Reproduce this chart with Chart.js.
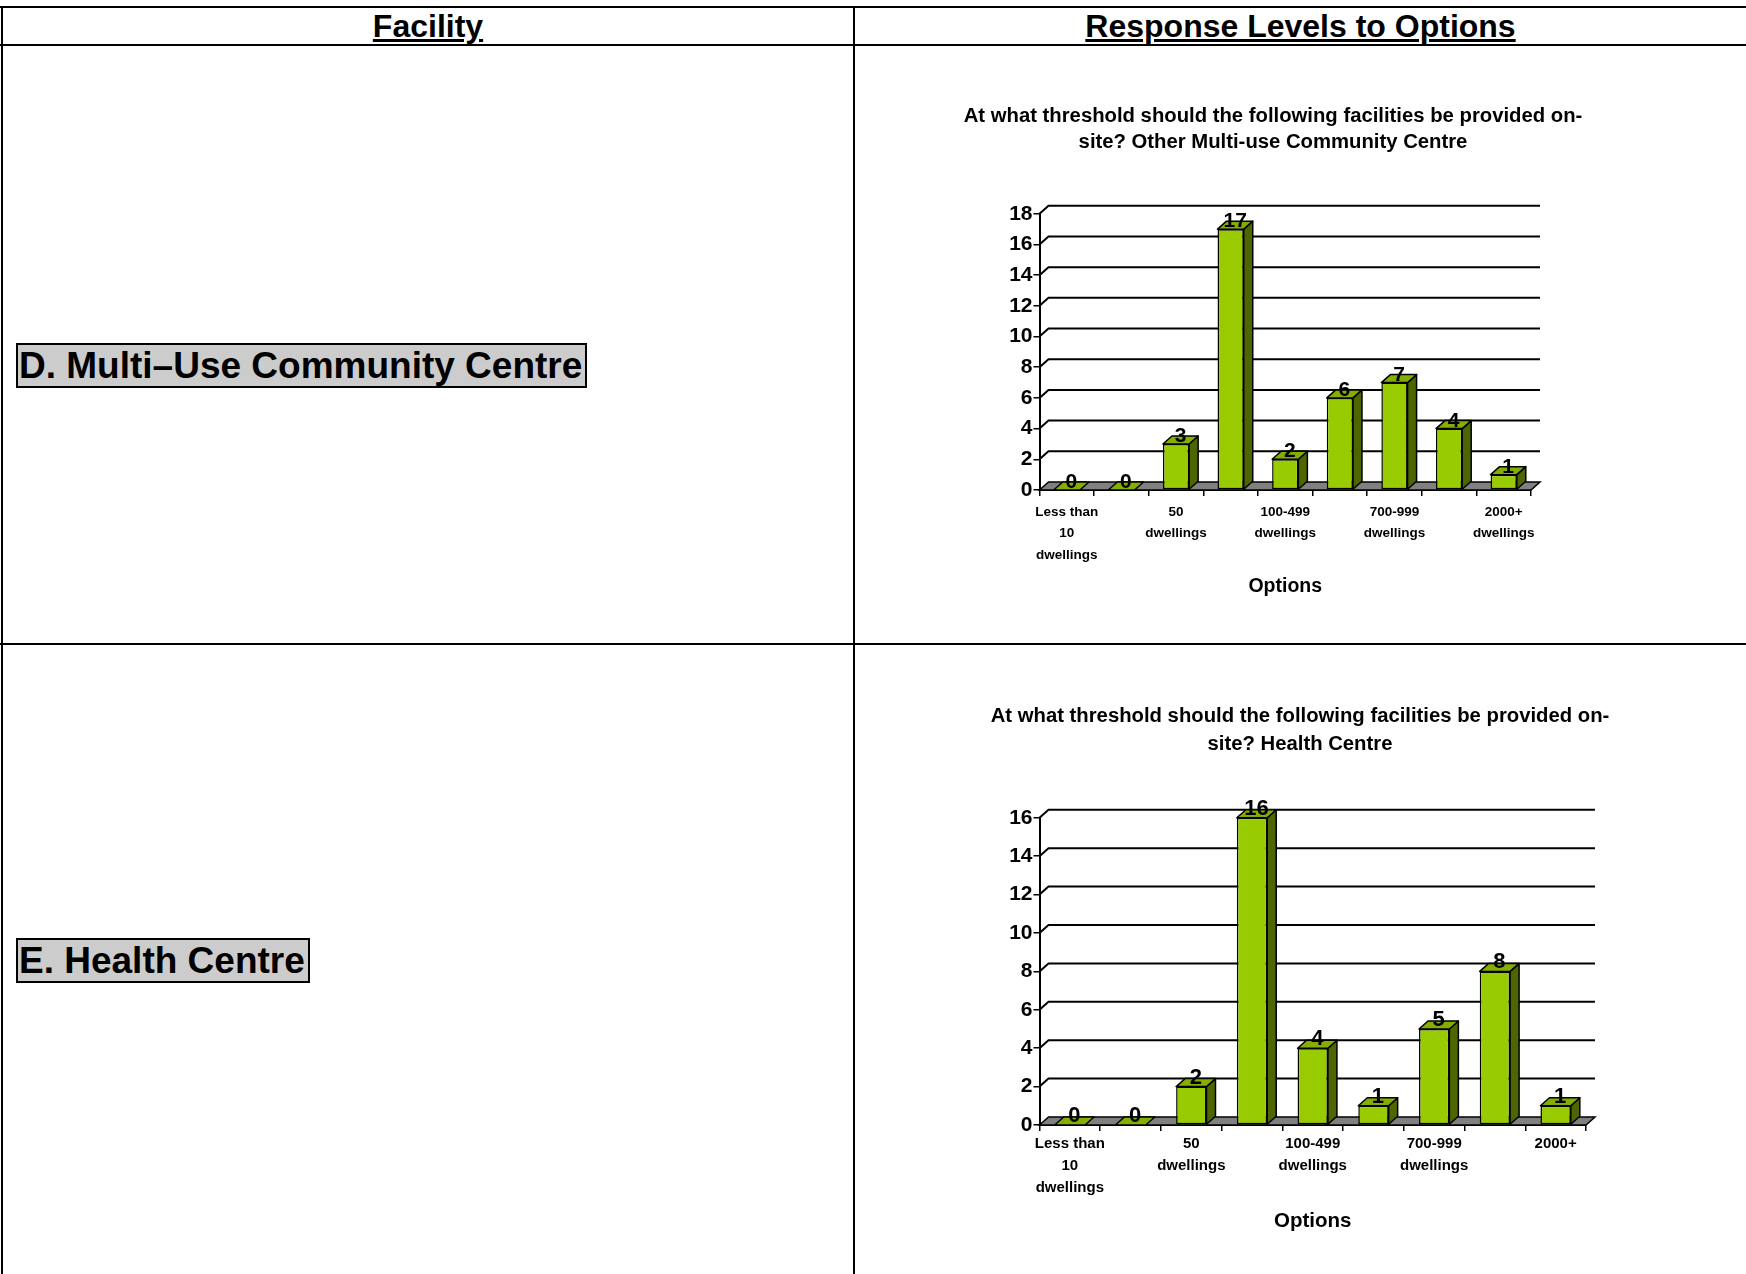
<!DOCTYPE html>
<html>
<head>
<meta charset="utf-8">
<script src="https://cdn.jsdelivr.net/npm/chart.js@4.4.0/dist/chart.umd.min.js"></script>
<style>
  body { margin: 0; width: 1746px; height: 1274px; background: #fff; position: relative; overflow: hidden; font-family: "Liberation Sans", Arial, sans-serif; }
  .rule { position: absolute; background: #000; }
  .head { position: absolute; top: 7px; height: 38px; line-height: 38px; text-align: center; font-weight: bold; font-size: 32px; text-decoration: underline; }
  .facility { position: absolute; left: 16px; border: 2px solid #000; background: #ccc; font-weight: bold; font-size: 37px; line-height: 41px; padding: 0 3px 0 1px; white-space: nowrap; }
  canvas { position: absolute; }
</style>
</head>
<body>
<div class="rule" style="left:0;top:6px;width:1746px;height:2px"></div>
<div class="rule" style="left:0;top:44px;width:1746px;height:2px"></div>
<div class="rule" style="left:0;top:643px;width:1746px;height:2px"></div>
<div class="rule" style="left:1px;top:6px;width:2px;height:1268px"></div>
<div class="rule" style="left:853px;top:6px;width:2px;height:1268px"></div>

<div class="head" style="left:3px;width:850px">Facility</div>
<div class="head" style="left:855px;width:891px">Response Levels to Options</div>

<div class="facility" style="top:343px">D. Multi–Use Community Centre</div>
<div class="facility" style="top:938px">E. Health Centre</div>

<canvas id="communityChart" width="640" height="540" style="left:953px;top:60px"></canvas>
<canvas id="healthChart" width="650" height="575" style="left:975px;top:660px"></canvas>

<script>
var categories = ["Less than 10 dwellings", "10-49 dwellings", "50 dwellings", "51-99 dwellings", "100-499 dwellings",
                  "500-699 dwellings", "700-999 dwellings", "1000-1999 dwellings", "2000+ dwellings"];
var communityValues = [0, 0, 3, 17, 2, 6, 7, 4, 1];
var healthValues = [0, 0, 2, 16, 4, 1, 5, 8, 1];

// only every second category gets its name under the axis
var communityTicks = [["Less than", "10", "dwellings"], "", ["50", "dwellings"], "", ["100-499", "dwellings"], "",
                      ["700-999", "dwellings"], "", ["2000+", "dwellings"]];
var healthTicks = [["Less than", "10", "dwellings"], "", ["50", "dwellings"], "", ["100-499", "dwellings"], "",
                   ["700-999", "dwellings"], "", "2000+"];

var communityTitle = ["At what threshold should the following facilities be provided on-", "site? Other Multi-use Community Centre"];
var healthTitle = ["At what threshold should the following facilities be provided on-", "site? Health Centre"];

var frontColor = "#99CC00";
var topColor = "#84AE00";
var sideColor = "#4D6600";
var floorColor = "#808080";
var depthX = 9, depthY = 8;

Chart.defaults.font.family = "'Liberation Sans', Arial, sans-serif";
Chart.defaults.color = "#000";

// fake 3d: back wall gridlines, grey floor, bar tops and sides, value labels
var bars3d = {
    id: "bars3d",
    beforeDatasetsDraw: function(chart) {
        var ctx = chart.ctx, a = chart.chartArea, y = chart.scales.y;
        ctx.save();
        ctx.strokeStyle = "#000";
        ctx.lineWidth = 2;
        y.ticks.forEach(function(t) {
            if (t.value === 0) return;
            var py = y.getPixelForValue(t.value);
            ctx.beginPath();
            ctx.moveTo(a.left, py);
            ctx.lineTo(a.left + depthX, py - depthY);
            ctx.lineTo(a.right + depthX, py - depthY);
            ctx.stroke();
        });
        var p0 = y.getPixelForValue(0);
        ctx.beginPath();
        ctx.moveTo(a.left, p0);
        ctx.lineTo(a.left + depthX, p0 - depthY);
        ctx.lineTo(a.right + depthX, p0 - depthY);
        ctx.lineTo(a.right, p0);
        ctx.closePath();
        ctx.fillStyle = floorColor;
        ctx.fill();
        ctx.lineWidth = 1.5;
        ctx.stroke();
        ctx.restore();
    },
    afterDatasetsDraw: function(chart, args, opts) {
        var ctx = chart.ctx;
        var values = chart.data.datasets[0].data;
        ctx.save();
        ctx.strokeStyle = "#000";
        ctx.lineWidth = 1.5;
        ctx.lineJoin = "round";
        chart.getDatasetMeta(0).data.forEach(function(bar, i) {
            var p = bar.getProps(["x", "y", "base", "width"], true);
            var x0 = p.x - p.width / 2, x1 = p.x + p.width / 2;
            if (p.base - p.y > 0.5) {
                ctx.beginPath();
                ctx.moveTo(x1, p.y);
                ctx.lineTo(x1 + depthX, p.y - depthY);
                ctx.lineTo(x1 + depthX, p.base - depthY);
                ctx.lineTo(x1, p.base);
                ctx.closePath();
                ctx.fillStyle = sideColor;
                ctx.fill();
                ctx.stroke();
            }
            ctx.beginPath();
            ctx.moveTo(x0, p.y);
            ctx.lineTo(x0 + depthX, p.y - depthY);
            ctx.lineTo(x1 + depthX, p.y - depthY);
            ctx.lineTo(x1, p.y);
            ctx.closePath();
            ctx.fillStyle = topColor;
            ctx.fill();
            ctx.stroke();

            ctx.fillStyle = "#000";
            ctx.font = "bold " + opts.labelSize + "px 'Liberation Sans', Arial, sans-serif";
            ctx.textAlign = "center";
            ctx.textBaseline = "alphabetic";
            ctx.fillText(String(values[i]), p.x + depthX / 2, p.y - opts.lift);
        });
        ctx.restore();
    }
};

function thresholdChart(id, s) {
    return new Chart(id, {
        type: "bar",
        data: {
            labels: categories,
            datasets: [{
                data: s.values,
                backgroundColor: frontColor,
                borderColor: "#000",
                borderWidth: 1.5,
                borderSkipped: false,
                categoryPercentage: 1,
                barPercentage: s.barPct
            }]
        },
        options: {
            responsive: false,
            animation: false,
            devicePixelRatio: 1,
            layout: { padding: 0 },
            plugins: {
                legend: { display: false },
                tooltip: { enabled: false },
                title: {
                    display: true,
                    text: s.title,
                    color: "#000",
                    font: { size: 20.3, weight: "bold", lineHeight: s.titleLine },
                    padding: { top: 43, bottom: s.titleGap }
                },
                bars3d: { labelSize: s.labelSize, lift: s.lift }
            },
            scales: {
                x: {
                    afterFit: function(scale) { scale.height = 110; },
                    grid: { drawOnChartArea: false, tickLength: 6, color: "#000", lineWidth: 1.5 },
                    border: { display: true, color: "#000", width: 2 },
                    ticks: {
                        autoSkip: false,
                        maxRotation: 0,
                        minRotation: 0,
                        padding: s.tickPad,
                        color: "#000",
                        font: { size: s.tickSize, weight: "bold", lineHeight: 21.7 / s.tickSize },
                        callback: function(value, index) { return s.ticks[index]; }
                    },
                    title: {
                        display: true,
                        text: "Options",
                        color: "#000",
                        font: { size: s.optSize, weight: "bold" },
                        padding: { top: 0, bottom: s.optPad }
                    }
                },
                y: {
                    min: 0,
                    max: s.max,
                    afterFit: function(scale) { scale.width = s.axisWidth; },
                    grid: { drawOnChartArea: false, tickLength: 6, color: "#000", lineWidth: 1.5 },
                    border: { display: true, color: "#000", width: 2 },
                    ticks: { stepSize: 2, padding: 1, color: "#000", font: { size: 21, weight: "bold" } }
                },
                // empty strip on the right so the plot sits left of the title's centre
                gap: {
                    type: "linear",
                    position: "right",
                    afterFit: function(scale) { scale.width = s.rightGap; },
                    grid: { display: false },
                    border: { display: false },
                    ticks: { display: false }
                }
            }
        },
        plugins: [bars3d]
    });
}

thresholdChart("communityChart", {
    values: communityValues, ticks: communityTicks, title: communityTitle, max: 18,
    barPct: 0.48, axisWidth: 86.5, rightGap: 62, titleLine: 1.3, titleGap: 58,
    tickSize: 13.5, tickPad: 5, optSize: 19.5, optPad: 2, labelSize: 21, lift: 2
});

thresholdChart("healthChart", {
    values: healthValues, ticks: healthTicks, title: healthTitle, max: 16,
    barPct: 0.5, axisWidth: 64.5, rightGap: 39, titleLine: 1.35, titleGap: 60,
    tickSize: 15, tickPad: 2.5, optSize: 20.5, optPad: 1, labelSize: 22, lift: 3
});
</script>
</body>
</html>
